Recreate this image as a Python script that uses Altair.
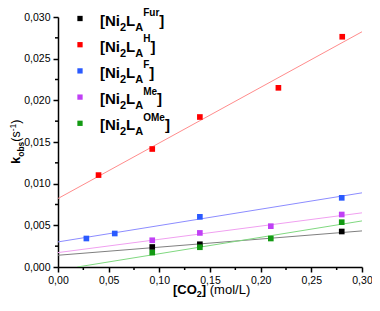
import altair as alt
import pandas as pd

# ---------------- data ----------------
series = ["Fur", "H", "F", "Me", "OMe"]
marker_colors = ["#000000", "#ff0000", "#2a5aff", "#c040f5", "#139a13"]
line_colors = ["#808080", "#ff8c8c", "#8c8cff", "#f0a0f0", "#80d880"]

pts_x = {
    "Fur": [0.093, 0.14, 0.28],
    "H": [0.040, 0.093, 0.14, 0.2175, 0.2805],
    "F": [0.028, 0.056, 0.14, 0.28],
    "Me": [0.093, 0.14, 0.21, 0.28],
    "OMe": [0.093, 0.14, 0.21, 0.28],
}
pts_y = {
    "Fur": [0.00240, 0.00273, 0.00426],
    "H": [0.01103, 0.01416, 0.01800, 0.02150, 0.02763],
    "F": [0.00342, 0.00402, 0.00602, 0.00830],
    "Me": [0.00321, 0.00409, 0.00490, 0.00630],
    "OMe": [0.00173, 0.00237, 0.00342, 0.00538],
}

# fitted lines: start and end points
fit_x0 = [0.0, 0.0, 0.0, 0.0, 0.019]
fit_y0 = [0.00141, 0.00822, 0.00301, 0.00173, 0.0]
fit_x1 = [0.30, 0.30, 0.30, 0.30, 0.30]
fit_y1 = [0.00433, 0.02823, 0.00890, 0.00650, 0.00553]

x_ticks = [0.0, 0.05, 0.10, 0.15, 0.20, 0.25, 0.30]
y_ticks = [0.0, 0.005, 0.010, 0.015, 0.020, 0.025, 0.030]
x_minor = [0.025, 0.075, 0.125, 0.175, 0.225, 0.275]
y_minor = [0.0025, 0.0075, 0.0125, 0.0175, 0.0225, 0.0275]

legend_sups = ["Fur", "H", "F", "Me", "OMe"]

# ---------------- tables ----------------
pts = pd.DataFrame(
    [(s, x, y) for s in series for x, y in zip(pts_x[s], pts_y[s])],
    columns=["series", "x", "y"],
)
fits = pd.DataFrame(
    [(s, fit_x0[i], fit_y0[i]) for i, s in enumerate(series)]
    + [(s, fit_x1[i], fit_y1[i]) for i, s in enumerate(series)],
    columns=["series", "x", "y"],
)

W, H = 304, 250
FONT = "Liberation Sans"

xscale = alt.Scale(domain=[0, 0.30], nice=False, zero=False)
yscale = alt.Scale(domain=[0, 0.030], nice=False, zero=False)

xaxis = alt.Axis(
    values=x_ticks, title=None, grid=False,
    labelExpr="replace(format(datum.value, '.2f'), '.', ',')",
)
yaxis = alt.Axis(
    values=y_ticks, title=None, grid=False,
    labelExpr="replace(format(datum.value, '.3f'), '.', ',')",
)

lines = alt.Chart(fits).mark_line(strokeWidth=1, clip=True).encode(
    x=alt.X("x:Q", scale=xscale, axis=xaxis),
    y=alt.Y("y:Q", scale=yscale, axis=yaxis),
    stroke=alt.Stroke("series:N", scale=alt.Scale(domain=series, range=line_colors), legend=None),
    detail="series:N",
)

points = alt.Chart(pts).mark_square(size=32, opacity=1).encode(
    x=alt.X("x:Q", scale=xscale),
    y=alt.Y("y:Q", scale=yscale),
    fill=alt.Fill("series:N", scale=alt.Scale(domain=series, range=marker_colors), legend=None),
)

xminor = alt.Chart(pd.DataFrame({"v": x_minor})).mark_rule(color="black", strokeWidth=1.5).encode(
    x=alt.X("v:Q", scale=xscale), y=alt.value(H), y2=alt.value(H + 3)
)
yminor = alt.Chart(pd.DataFrame({"v": y_minor})).mark_rule(color="black", strokeWidth=1.5).encode(
    y=alt.Y("v:Q", scale=yscale), x=alt.value(-3), x2=alt.value(0)
)

# ---------------- helper for rich text ----------------
REG = {'(': 333, ')': 333, 's': 500, '-': 333, '1': 556, 'o': 556, 'b': 556, 'm': 833,
       'l': 222, '/': 278, 'L': 556, ' ': 278, 'k': 500}
BOLD = {'[': 333, ']': 333, 'N': 722, 'i': 278, '2': 556, 'L': 611, 'A': 722, 'F': 611,
        'u': 611, 'r': 389, 'H': 722, 'M': 833, 'e': 556, 'O': 778, 'C': 722, 'k': 556,
        'o': 611, 'b': 611, 's': 556, '-': 333, '1': 556, ' ': 278}


def tw(text, size, bold):
    tab = BOLD if bold else REG
    return sum(tab.get(c, 556) for c in text) * size / 1000.0


base = alt.Chart(pd.DataFrame({"a": [0]}))
layers_text = []


def put(text, x, y, size, bold, color="black", angle=0):
    layers_text.append(
        base.mark_text(
            text=text, font=FONT, fontSize=size, fontWeight="bold" if bold else "normal",
            align="left", baseline="alphabetic", color=color, angle=angle,
        ).encode(x=alt.value(x), y=alt.value(y))
    )


# legend
for i, s in enumerate(series):
    cy = 1.5 + 26.2 * i
    layers_text.append(
        base.mark_square(size=28, color=marker_colors[i], opacity=1).encode(
            x=alt.value(22), y=alt.value(cy)
        )
    )
    x = 42
    pieces = [("[Ni", 15, 7), ("2", 11, 12), ("L", 15, 7), ("A", 11, 12),
              (legend_sups[i], 10, -2.5), ("]", 15, 7)]
    for t, sz, dy in pieces:
        put(t, x, cy + dy, sz, True)
        x += tw(t, sz, True)

# x title
x = 115
for t, sz, dy, b, gap in [("[CO", 13, 0, True, 0), ("2", 9, 3, True, 0),
                          ("]", 13, 0, True, 0), ("(mol/L)", 13, 0, False, 3.6)]:
    x += gap
    put(t, x, 277 + dy, sz, b)
    x += tw(t, sz, b)

# y title (rotated)
y = 147
for t, sz, dx, b in [("k", 13, 0, True), ("obs", 8.5, 4, True), ("(s", 12.5, 0, False),
                     ("-1", 8.5, -3.5, False), (")", 12.5, 0, False)]:
    put(t, -38.5 + dx, y, sz, b, angle=270)
    y -= tw(t, sz, b)

chart = alt.layer(lines, points, xminor, yminor, *layers_text).properties(
    width=W, height=H,
    padding={"left": 50, "top": 9, "right": 10, "bottom": 36},
    autosize=alt.AutoSizeParams(type="none"),
).configure_view(stroke=None).configure_axis(
    domainColor="black", domainWidth=1.5, tickColor="black", tickWidth=1.5, tickSize=5,
    labelFont=FONT, labelFontSize=10.5, labelColor="black", labelPadding=3,
).configure_axisY(labelAlign="right").configure_axisX(labelAlign="center")

chart.save("out.html", embed_options={"renderer": "svg", "actions": False})
